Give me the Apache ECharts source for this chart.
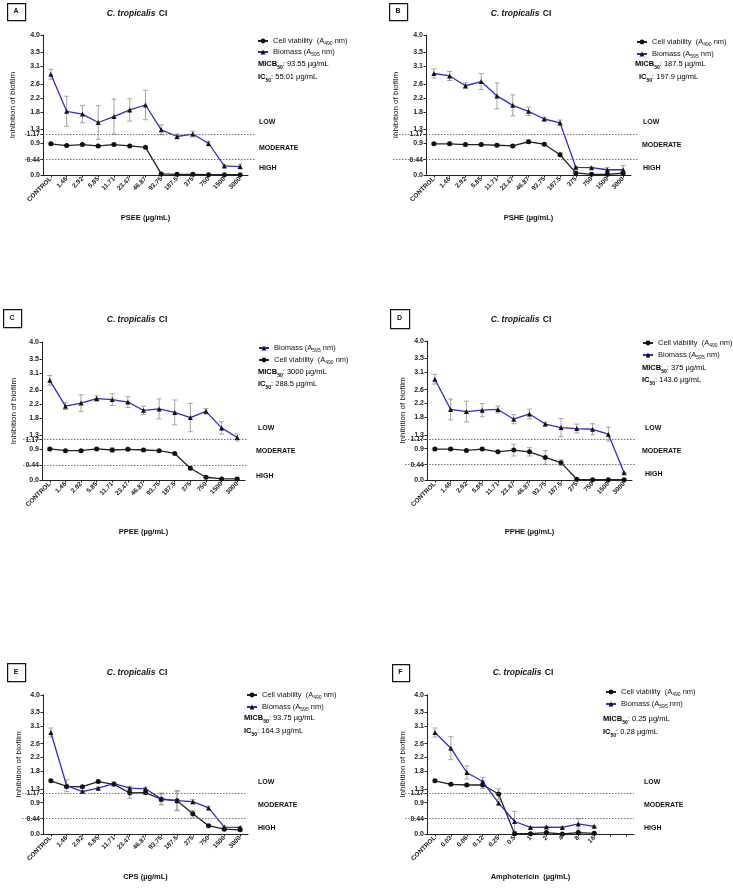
<!DOCTYPE html>
<html><head><meta charset="utf-8">
<script src="https://cdn.jsdelivr.net/npm/echarts@6/dist/echarts.min.js"></script>
<style>html,body{margin:0;padding:0;background:#fff}#c{width:733px;height:888px}</style>
</head><body><div id="c"></div>
<script>
const FONT = '"Liberation Sans", Arial, Helvetica, sans-serif';

// ---------- data ----------
const catsExtract = ['CONTROL','1.46','2.92','5.85','11.71','23.47','46.87','93.75','187.5','375','750','1500','3000'];
const catsAmpho = ['CONTROL','0.03','0.06','0.12','0.25','0.5','1','2','4','8','16'];
const yTicks = [0, 0.44, 0.9, 1.17, 1.3, 1.8, 2.2, 2.6, 3.1, 3.5, 4.0];
const thresholds = [1.17, 0.44];
const levelNames = ['LOW', 'MODERATE', 'HIGH'];
const panelLetters = ['A', 'B', 'C', 'D', 'E', 'F'];
const xNames = ['PSEE (µg/mL)', 'PSHE (µg/mL)', 'PPEE (µg/mL)', 'PPHE (µg/mL)', 'CPS (µg/mL)', 'Amphotericin  (µg/mL)'];
const micb50 = ['93.55', '187.5', '3000', '375', '93.75', '0.25'];
const ic50 = ['55.01', '197.9', '288.5', '143.6', '164.3', '0.28'];

// A – PSEE
const cellA = [0.89, 0.84, 0.87, 0.83, 0.87, 0.83, 0.79, 0.03, 0.02, 0.02, 0.01, 0.01, 0.01];
const cellErrA = [0.03, 0.03, 0.03, 0.03, 0.03, 0.03, 0.03, 0.01, 0.01, 0.01, 0.01, 0.01, 0.01];
const bioA = [2.88, 1.82, 1.74, 1.50, 1.67, 1.86, 2.00, 1.29, 1.10, 1.17, 0.90, 0.26, 0.24];
const bioErrA = [0.14, 0.43, 0.25, 0.48, 0.50, 0.32, 0.42, 0.14, 0.07, 0.08, 0.06, 0.03, 0.07];
// B – PSHE
const cellB = [0.89, 0.89, 0.87, 0.87, 0.85, 0.83, 0.95, 0.88, 0.58, 0.06, 0.02, 0.02, 0.05];
const cellErrB = [0.03, 0.05, 0.03, 0.03, 0.03, 0.03, 0.05, 0.03, 0.05, 0.02, 0.02, 0.02, 0.04];
const bioB = [2.90, 2.83, 2.55, 2.67, 2.26, 1.99, 1.82, 1.60, 1.49, 0.22, 0.21, 0.15, 0.15];
const bioErrB = [0.13, 0.13, 0.08, 0.23, 0.37, 0.30, 0.12, 0.05, 0.08, 0.02, 0.02, 0.06, 0.12];
// C – PPEE
const cellC = [0.90, 0.85, 0.85, 0.90, 0.87, 0.89, 0.87, 0.85, 0.77, 0.34, 0.08, 0.03, 0.03];
const cellErrC = [0.03, 0.03, 0.03, 0.03, 0.06, 0.03, 0.03, 0.03, 0.03, 0.03, 0.02, 0.02, 0.02];
const bioC = [2.89, 2.14, 2.23, 2.36, 2.33, 2.26, 2.02, 2.06, 1.96, 1.81, 1.99, 1.51, 1.23];
const bioErrC = [0.14, 0.10, 0.24, 0.08, 0.17, 0.16, 0.12, 0.29, 0.36, 0.41, 0.08, 0.18, 0.10];
// D – PPHE
const cellD = [0.89, 0.89, 0.85, 0.89, 0.81, 0.86, 0.81, 0.65, 0.50, 0.02, 0.01, 0.01, 0.01];
const cellErrD = [0.03, 0.03, 0.03, 0.03, 0.03, 0.17, 0.12, 0.20, 0.08, 0.02, 0.01, 0.01, 0.01];
const bioD = [2.90, 2.03, 1.97, 2.01, 2.03, 1.75, 1.90, 1.61, 1.51, 1.48, 1.46, 1.32, 0.21];
const bioErrD = [0.14, 0.30, 0.30, 0.19, 0.10, 0.13, 0.14, 0.05, 0.26, 0.13, 0.16, 0.20, 0.01];
// E – CPS
const cellE = [1.53, 1.37, 1.36, 1.51, 1.43, 1.18, 1.19, 1.00, 0.96, 0.58, 0.24, 0.14, 0.12];
const cellErrE = [0.03, 0.03, 0.03, 0.03, 0.03, 0.15, 0.04, 0.15, 0.27, 0.10, 0.03, 0.02, 0.02];
const bioE = [2.92, 1.39, 1.22, 1.32, 1.45, 1.32, 1.30, 1.01, 0.96, 0.93, 0.75, 0.20, 0.19];
const bioErrE = [0.13, 0.17, 0.03, 0.03, 0.05, 0.05, 0.04, 0.17, 0.29, 0.06, 0.05, 0.02, 0.02];
// F – Amphotericin
const cellF = [1.53, 1.43, 1.41, 1.41, 1.15, 0.01, 0.01, 0.04, 0.00, 0.04, 0.02];
const cellErrF = [0.03, 0.03, 0.03, 0.10, 0.15, 0.01, 0.01, 0.02, 0.01, 0.02, 0.01];
const bioF = [2.92, 2.47, 1.77, 1.51, 0.89, 0.36, 0.19, 0.20, 0.19, 0.29, 0.22];
const bioErrF = [0.13, 0.33, 0.19, 0.12, 0.05, 0.29, 0.02, 0.02, 0.02, 0.15, 0.02];

// ---------- layout ----------
const panels = [
  {cats: catsExtract, cell: cellA, cellErr: cellErrA, bio: bioA, bioErr: bioErrA,
   grid: {left: 43, top: 35, width: 205, height: 140}, yGap: 26, xGap: 39,
   box: [7, 3, 18, 17], title: [137, 14], legend: [257, 36], legendGap: 1, legendOrder: ['Cell viability', 'Biomass'],
   micb: [258, 64], ic: [258, 77], levels: [[259, 122], [259, 148], [259, 168]], dash: [25, 255]},
  {cats: catsExtract, cell: cellB, cellErr: cellErrB, bio: bioB, bioErr: bioErrB,
   grid: {left: 426, top: 35, width: 205, height: 140}, yGap: 26, xGap: 39,
   box: [389, 3, 18, 17], title: [521, 14], legend: [636, 37], legendGap: 2, legendOrder: ['Cell viability', 'Biomass'],
   micb: [635, 64], ic: [639, 77], levels: [[643, 122], [642, 145], [643, 168]], dash: [393, 639]},
  {cats: catsExtract, cell: cellC, cellErr: cellErrC, bio: bioC, bioErr: bioErrC,
   grid: {left: 42, top: 342, width: 203, height: 138}, yGap: 24, xGap: 48,
   box: [3, 309, 18, 18], title: [137, 320], legend: [258, 343], legendGap: 2, legendOrder: ['Biomass', 'Cell viability'],
   micb: [258, 372], ic: [258, 384], levels: [[258, 428], [256, 451], [256, 476]], dash: [23, 247]},
  {cats: catsExtract, cell: cellD, cellErr: cellErrD, bio: bioD, bioErr: bioErrD,
   grid: {left: 427, top: 341, width: 205, height: 139}, yGap: 18, xGap: 48,
   box: [390, 309, 19, 19], title: [521, 320], legend: [642, 338], legendGap: 2, legendOrder: ['Cell viability', 'Biomass'],
   micb: [642, 368], ic: [642, 380], levels: [[645, 428], [642, 451], [645, 474]], dash: [405, 636]},
  {cats: catsExtract, cell: cellE, cellErr: cellErrE, bio: bioE, bioErr: bioErrE,
   grid: {left: 43, top: 695, width: 205, height: 139}, yGap: 18, xGap: 39,
   box: [7, 663, 18, 18], title: [137, 673], legend: [246, 690], legendGap: 2, legendOrder: ['Cell viability', 'Biomass'],
   micb: [244, 718], ic: [244, 731], levels: [[258, 782], [258, 805], [258, 828]], dash: [22, 247]},
  {cats: catsAmpho, cell: cellF, cellErr: cellErrF, bio: bioF, bioErr: bioErrF, xMax: 12,
   grid: {left: 427, top: 695, width: 207, height: 139}, yGap: 18, xGap: 39,
   box: [392, 664, 17, 17], title: [523, 673], legend: [605, 687], legendGap: 2, legendOrder: ['Cell viability', 'Biomass'],
   micb: [603, 719], ic: [603, 732], levels: [[644, 782], [644, 805], [644, 828]], dash: [405, 634]}
];

const BLUE = '#2c2cd6';
const subRich = {
  b: {fontFamily: FONT, fontSize: 7.5, fontWeight: 'bold', color: '#111', lineHeight: 12, verticalAlign: 'middle'},
  bs: {fontFamily: FONT, fontSize: 5, fontWeight: 'bold', color: '#111', verticalAlign: 'bottom'},
  n: {fontFamily: FONT, fontSize: 7.5, color: '#111', lineHeight: 12, verticalAlign: 'middle'}
};
const legendRich = {
  n: {fontFamily: FONT, fontSize: 7.5, color: '#111', lineHeight: 10, verticalAlign: 'middle'},
  s: {fontFamily: FONT, fontSize: 5, color: '#111', verticalAlign: 'bottom'}
};

const grids = [], xAxes = [], yAxes = [], series = [], legends = [], graphics = [];

function errData(vals, errs) {
  return vals.map((v, i) => [i, Math.max(0, v - errs[i]), v + errs[i]]);
}
function errorRender(params, api) {
  const x = api.value(0);
  const lo = api.coord([x, api.value(1)]);
  const hi = api.coord([x, api.value(2)]);
  const w = 2.5;
  const st = {stroke: '#9a9a9a', lineWidth: 0.9};
  return {type: 'group', children: [
    {type: 'line', shape: {x1: lo[0], y1: lo[1], x2: hi[0], y2: hi[1]}, style: st},
    {type: 'line', shape: {x1: lo[0] - w, y1: lo[1], x2: lo[0] + w, y2: lo[1]}, style: st},
    {type: 'line', shape: {x1: hi[0] - w, y1: hi[1], x2: hi[0] + w, y2: hi[1]}, style: st}
  ]};
}

panels.forEach((p, k) => {
  grids.push(Object.assign({containLabel: false}, p.grid));
  const xa = {
    type: 'category', gridIndex: k, data: p.cats, boundaryGap: true,
    name: xNames[k], nameLocation: 'middle', nameGap: p.xGap,
    nameTextStyle: {fontFamily: FONT, fontSize: 7.5, fontWeight: 'bold', color: '#111'},
    axisLine: {lineStyle: {color: '#222', width: 1}},
    axisTick: {show: true, alignWithLabel: true, length: 2.5, lineStyle: {color: '#222'}},
    axisLabel: {rotate: 45, interval: 0, fontFamily: FONT, fontSize: 6.5, fontWeight: 'bold', color: '#222', margin: 3},
    splitLine: {show: false}
  };
  if (p.xMax != null) xa.max = p.xMax;
  xAxes.push(xa);
  yAxes.push({
    type: 'value', gridIndex: k, min: 0, max: 4,
    name: 'Inhibition of biofilm', nameLocation: 'middle', nameGap: p.yGap,
    nameTextStyle: {fontFamily: FONT, fontSize: 8, color: '#111'},
    axisLine: {show: true, lineStyle: {color: '#222', width: 1}},
    axisTick: {show: true, length: 2.5, customValues: yTicks, lineStyle: {color: '#222'}},
    axisLabel: {customValues: yTicks, fontFamily: FONT, fontSize: 7, fontWeight: 'bold', color: '#222', margin: 3,
      formatter: v => (v === 0 ? '0.0' : v === 4 ? '4.0' : String(v))},
    splitLine: {show: false}
  });
  // error bars
  series.push({type: 'custom', name: 'bioErr' + k, xAxisIndex: k, yAxisIndex: k, z: 1, silent: true,
    renderItem: errorRender, data: errData(p.bio, p.bioErr)});
  series.push({type: 'custom', name: 'cellErr' + k, xAxisIndex: k, yAxisIndex: k, z: 1, silent: true,
    renderItem: errorRender, data: errData(p.cell, p.cellErr)});
  // lines
  series.push({
    type: 'line', name: 'Cell viability', xAxisIndex: k, yAxisIndex: k, z: 3, data: p.cell,
    symbol: 'circle', symbolSize: 5, itemStyle: {color: '#111'}, lineStyle: {color: '#222', width: 1.3},
    markLine: {
      silent: true, symbol: ['none', 'none'], label: {show: false},
      lineStyle: {color: '#555', width: 0.8, type: [1.5, 1.5]},
      data: thresholds.map(t => [{coord: [0, t], x: p.dash[0]}, {coord: [0, t], x: p.dash[1]}])
    }
  });
  series.push({
    type: 'line', name: 'Biomass', xAxisIndex: k, yAxisIndex: k, z: 4, data: p.bio,
    symbol: 'triangle', symbolSize: 5, itemStyle: {color: '#111'}, lineStyle: {color: BLUE, width: 1.3}
  });
  legends.push({
    left: p.legend[0], top: p.legend[1], orient: 'vertical', data: p.legendOrder, padding: 0,
    selectedMode: false, itemWidth: 10, itemHeight: 6, itemGap: p.legendGap,
    textStyle: {fontFamily: FONT, fontSize: 7.5, color: '#111', lineHeight: 10, rich: legendRich},
    formatter: n => n === 'Cell viability' ? '{n|Cell viability  (A}{s|490}{n| nm)}' : '{n|Biomass (A}{s|595}{n| nm)}'
  });
  // panel box + letter
  graphics.push({type: 'rect', left: p.box[0], top: p.box[1],
    shape: {width: p.box[2], height: p.box[3]}, style: {fill: '#fff', stroke: '#111', lineWidth: 1.2}});
  graphics.push({type: 'text', x: p.box[0] + p.box[2] / 2, y: p.box[1] + p.box[3] / 2,
    style: {text: panelLetters[k], font: 'bold 7px ' + FONT, fill: '#111', align: 'center', verticalAlign: 'middle'}});
  // title
  graphics.push({type: 'text', x: p.title[0], y: p.title[1],
    style: {text: '{i|C. tropicalis} {b|CI}', align: 'center', verticalAlign: 'middle',
      rich: {i: {fontFamily: FONT, fontSize: 8.5, fontStyle: 'italic', fontWeight: 'bold', fill: '#111'},
             b: {fontFamily: FONT, fontSize: 8.5, fontWeight: 'bold', fill: '#111'}}}});
  // MICB / IC
  graphics.push({type: 'text', x: p.micb[0], y: p.micb[1],
    style: {text: '{b|MICB}{bs|50}{n|: ' + micb50[k] + ' µg/mL}', verticalAlign: 'middle', rich: subRich}});
  graphics.push({type: 'text', x: p.ic[0], y: p.ic[1],
    style: {text: '{b|IC}{bs|50}{n|: ' + ic50[k] + ' µg/mL}', verticalAlign: 'middle', rich: subRich}});
  // levels
  levelNames.forEach((ln, j) => {
    graphics.push({type: 'text', x: p.levels[j][0], y: p.levels[j][1],
      style: {text: ln, font: 'bold 7px ' + FONT, fill: '#111', verticalAlign: 'middle'}});
  });
});

const chart = echarts.init(document.getElementById('c'), null, {renderer: 'canvas'});
chart.setOption({
  animation: false,
  backgroundColor: '#fff',
  grid: grids, xAxis: xAxes, yAxis: yAxes, series: series, legend: legends,
  graphic: {elements: graphics}
});
</script></body></html>
